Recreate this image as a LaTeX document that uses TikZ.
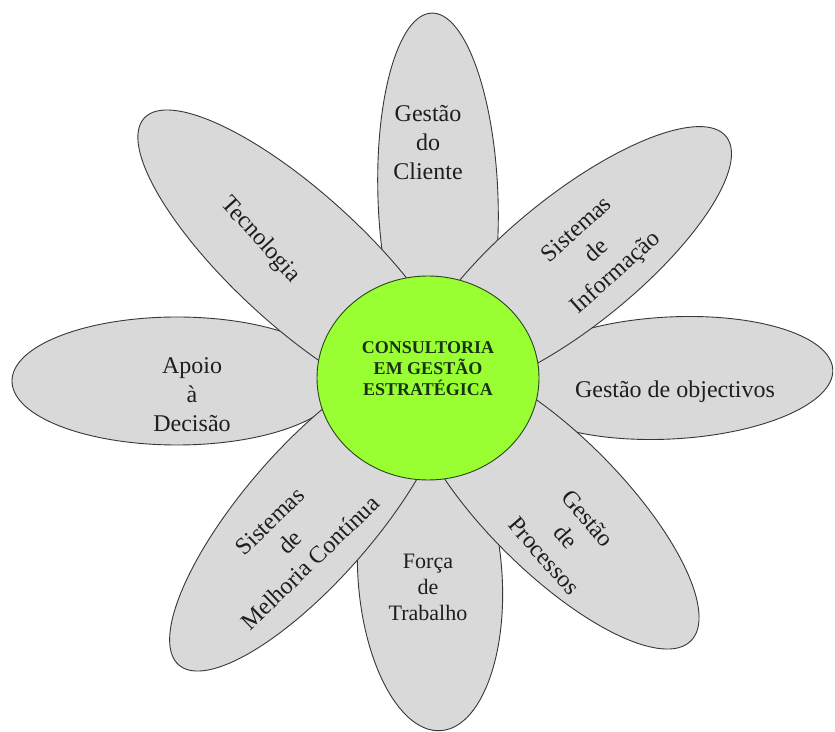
\documentclass[tikz,border=0pt]{standalone}
\usepackage{fontspec}
\setmainfont{Liberation Serif}
\usetikzlibrary{shapes.geometric}
\definecolor{petalgray}{RGB}{217,217,217}
\definecolor{edgegray}{RGB}{55,55,55}
\definecolor{limegreen}{RGB}{153,255,51}
\definecolor{coreedge}{RGB}{40,70,30}
\definecolor{coretext}{RGB}{25,50,20}
\definecolor{ptextcol}{RGB}{30,30,30}
\begin{document}
\begin{tikzpicture}[x=1pt,y=1pt,
  petal/.style={ellipse, draw=edgegray, fill=petalgray, line width=0.9pt, inner sep=0pt, outer sep=0pt},
  ptext/.style={font=\fontsize{24}{29}\selectfont, align=center, text=ptextcol, inner sep=0pt},
  core/.style={ellipse, draw=coreedge, fill=limegreen, line width=0.9pt, inner sep=0pt, outer sep=0pt},
  coretxt/.style={font=\fontsize{18}{21}\selectfont\bfseries, align=center, text=coretext, inner sep=0pt}]
\useasboundingbox (0,0) rectangle (835,731);
\fill[white] (0,0) rectangle (835,731);
% axis petals
\node[petal, minimum width=370pt, minimum height=120pt, rotate=92] (pTop) at (438,533) {};
\node[petal, minimum width=326pt, minimum height=122pt, rotate=3] (pRight) at (670,353) {};
\node[petal, minimum width=310pt, minimum height=144pt, rotate=-86] (pBottom) at (430,155) {};
\node[petal, minimum width=330pt, minimum height=128pt, rotate=0] (pLeft) at (177,350) {};
% diagonal petals
\node[petal, minimum width=420pt, minimum height=132pt, rotate=137.5] (pUL) at (299,471) {};
\node[petal, minimum width=394pt, minimum height=130pt, rotate=39] (pUR) at (573,470.5) {};
\node[petal, minimum width=390pt, minimum height=136pt, rotate=-45] (pLR) at (553,228) {};
\node[petal, minimum width=400pt, minimum height=132pt, rotate=-131] (pLL) at (310,217) {};
% centre
\node[core, minimum width=222pt, minimum height=204pt] (core) at (428,353) {};
\node[coretxt] (coreLabel) at (428,362) {CONSULTORIA\\EM GESTÃO\\ESTRATÉGICA};
% labels
\node[ptext] (tTop) at (428,588) {Gestão\\do\\Cliente};
\node[ptext, rotate=-48] (tUL) at (260,491) {Tecnologia};
\node[ptext, rotate=42] (tUR) at (597,479) {Sistemas\\de\\Informação};
\node[ptext] (tRight) at (675,339) {Gestão de objectivos};
\node[ptext, rotate=-49] (tLR) at (566,194) {Gestão\\de\\Processos};
\node[ptext, font=\fontsize{22}{26}\selectfont] (tBottom) at (428,144) {Força\\de\\Trabalho};
\node[ptext, rotate=44] (tLL) at (290,189) {Sistemas\\de\\Melhoria Contínua};
\node[ptext] (tLeft) at (192,336) {Apoio\\à\\Decisão};
\end{tikzpicture}
\end{document}
